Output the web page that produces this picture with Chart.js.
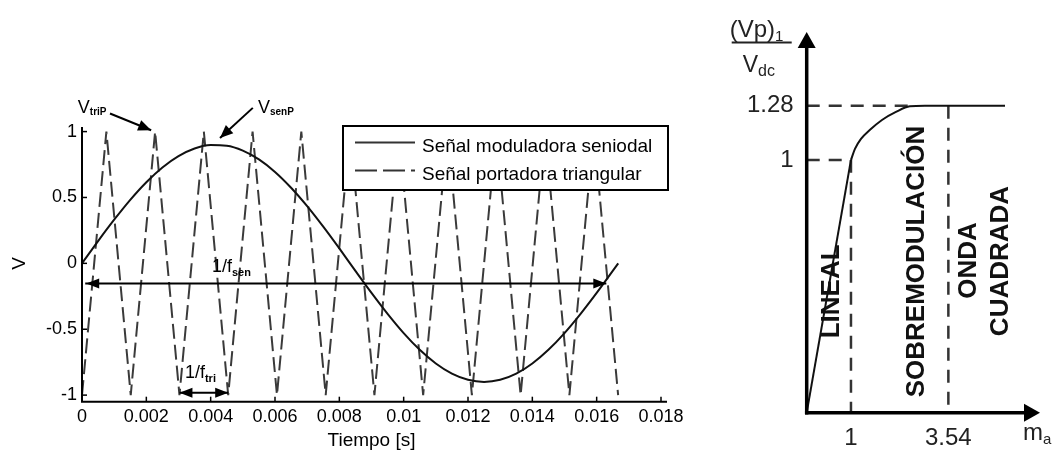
<!DOCTYPE html>
<html><head><meta charset="utf-8">
<script src="https://cdn.jsdelivr.net/npm/chart.js@4.4.1/dist/chart.umd.min.js"></script>
<style>
html,body{margin:0;padding:0;background:#fff;width:1055px;height:453px;overflow:hidden}
#c1{position:absolute;left:0;top:0}
#c2{position:absolute;left:690px;top:0}
</style></head><body>
<canvas id="c1" width="690" height="453"></canvas>
<canvas id="c2" width="365" height="453"></canvas>
<script>
const FONT = '"Liberation Sans", Arial, Helvetica, sans-serif';

// ---------- Left chart data ----------
const sineTime = [0,0.0005,0.001,0.0015,0.002,0.0025,0.003,0.0035,0.004,0.0045,0.005,0.0055,0.006,0.0065,0.007,0.0075,0.008,0.0085,0.009,0.0095,0.01,0.0105,0.011,0.0115,0.012,0.0125,0.013,0.0135,0.014,0.0145,0.015,0.0155,0.016,0.0165,0.01667];
const sineValue = [0,0.169,0.331,0.482,0.616,0.728,0.814,0.872,0.898,0.893,0.856,0.789,0.694,0.574,0.434,0.278,0.113,-0.057,-0.224,-0.383,-0.529,-0.656,-0.760,-0.837,-0.884,-0.900,-0.884,-0.837,-0.760,-0.656,-0.529,-0.383,-0.224,-0.057,0];
const triTime = [0,0.000758,0.001515,0.002273,0.003030,0.003788,0.004545,0.005303,0.006061,0.006818,0.007576,0.008333,0.009091,0.009848,0.010606,0.011364,0.012121,0.012879,0.013636,0.014394,0.015152,0.015909,0.016667];
const triValue = [-1,1,-1,1,-1,1,-1,1,-1,1,-1,1,-1,1,-1,1,-1,1,-1,1,-1,1,-1];
const timeTicks = [0,0.002,0.004,0.006,0.008,0.01,0.012,0.014,0.016,0.018];
const timeTickLabels = ['0','0.002','0.004','0.006','0.008','0.01','0.012','0.014','0.016','0.018'];
const voltTicks = [-1,-0.5,0,0.5,1];
const voltTickLabels = ['-1','-0.5','0','0.5','1'];
const seriesNames = ['Señal moduladora seniodal','Señal portadora triangular'];

// ---------- Right chart data (schematic) ----------
const linealMa = [0,1];
const linealVp = [0,1];
const overMa = [1,1.09,1.226,1.43,1.70,2.016,2.33,2.67,4.48];
const overVp = [1,1.0435,1.083,1.119,1.158,1.190,1.212,1.214,1.214];
const maTicks = [1,3.2];
const maTickLabels = ['1','3.54'];
const vpTicks = [1,1.214];
const vpTickLabels = ['1','1.28'];

const pts = (xs, ys) => xs.map((x,i)=>({x:x, y:ys[i]}));

function arrowHead(ctx, x1,y1,x2,y2,len,half){
  const a = Math.atan2(y2-y1, x2-x1), c=Math.cos(a), s=Math.sin(a);
  ctx.beginPath();
  ctx.moveTo(x2,y2);
  ctx.lineTo(x2-len*c+half*s, y2-len*s-half*c);
  ctx.lineTo(x2-len*c-half*s, y2-len*s+half*c);
  ctx.closePath(); ctx.fill();
}
function subText(ctx, main, sub, x, y, mainSize, subSize, dy, subBold){
  ctx.font = mainSize+'px '+FONT;
  ctx.textAlign='left'; ctx.textBaseline='alphabetic';
  ctx.fillText(main, x, y);
  const w = ctx.measureText(main).width;
  ctx.font = (subBold?'bold ':'')+subSize+'px '+FONT;
  ctx.fillText(sub, x+w, y+dy);
}

// ---------- Left chart ----------
const leftDecor = {
  id:'leftDecor',
  afterDatasetsDraw(chart){
    const {ctx, chartArea:a, scales:{x,y}} = chart;
    ctx.save();
    ctx.setLineDash([]);
    ctx.strokeStyle='#000'; ctx.fillStyle='#000'; ctx.lineWidth=2;
    ctx.beginPath();
    ctx.moveTo(a.left, y.getPixelForValue(1.035));
    ctx.lineTo(a.left, a.bottom);
    ctx.lineTo(a.right+6, a.bottom);
    ctx.stroke();
    ctx.lineWidth=1.5;
    timeTicks.forEach(t=>{const px=x.getPixelForValue(t); ctx.beginPath(); ctx.moveTo(px,a.bottom); ctx.lineTo(px,a.bottom-5); ctx.stroke();});
    voltTicks.forEach(v=>{const py=y.getPixelForValue(v); ctx.beginPath(); ctx.moveTo(a.left,py); ctx.lineTo(a.left+5,py); ctx.stroke();});

    ctx.lineWidth=2;
    let ya = y.getPixelForValue(-0.152), xa=x.getPixelForValue(0.0001), xb=x.getPixelForValue(0.0163);
    ctx.beginPath(); ctx.moveTo(xa,ya); ctx.lineTo(xb,ya); ctx.stroke();
    arrowHead(ctx, xb,ya, xa+1,ya, 13,5);
    arrowHead(ctx, xa,ya, xb,ya, 13,5);
    subText(ctx,'1/f','sen', x.getPixelForValue(0.00404), y.getPixelForValue(-0.065), 18, 11, 4, true);

    ya = y.getPixelForValue(-0.983); xa=x.getPixelForValue(0.00303); xb=x.getPixelForValue(0.004545);
    ctx.beginPath(); ctx.moveTo(xa,ya); ctx.lineTo(xb,ya); ctx.stroke();
    arrowHead(ctx, xb,ya, xa,ya, 13,5);
    arrowHead(ctx, xa,ya, xb,ya, 13,5);
    subText(ctx,'1/f','tri', x.getPixelForValue(0.0032), y.getPixelForValue(-0.871), 18, 11, 4, true);

    subText(ctx,'V','triP', x.getPixelForValue(-0.00013), y.getPixelForValue(1.14), 18, 10, 2, true);
    let x1=x.getPixelForValue(0.00087), y1=y.getPixelForValue(1.137), x2=x.getPixelForValue(0.00215), y2=y.getPixelForValue(1.01);
    ctx.beginPath(); ctx.moveTo(x1,y1); ctx.lineTo(x2,y2); ctx.stroke();
    arrowHead(ctx, x1,y1,x2,y2, 13,5.5);
    subText(ctx,'V','senP', x.getPixelForValue(0.00547), y.getPixelForValue(1.14), 18, 10, 2, true);
    x1=x.getPixelForValue(0.00531); y1=y.getPixelForValue(1.18); x2=x.getPixelForValue(0.00429); y2=y.getPixelForValue(0.952);
    ctx.beginPath(); ctx.moveTo(x1,y1); ctx.lineTo(x2,y2); ctx.stroke();
    arrowHead(ctx, x1,y1,x2,y2, 13,5.5);

    const L = a.left+261, T = a.top+1, W = 325, H = 64;
    ctx.fillStyle='#fff'; ctx.fillRect(L,T,W,H);
    ctx.strokeStyle='#000'; ctx.lineWidth=2; ctx.strokeRect(L,T,W,H);
    ctx.strokeStyle='#333'; ctx.lineWidth=2;
    ctx.beginPath(); ctx.moveTo(L+12,T+16.5); ctx.lineTo(L+72,T+16.5); ctx.stroke();
    ctx.setLineDash([22,6]);
    ctx.beginPath(); ctx.moveTo(L+12,T+44.5); ctx.lineTo(L+72,T+44.5); ctx.stroke();
    ctx.setLineDash([]);
    ctx.fillStyle='#000'; ctx.font='19px '+FONT; ctx.textAlign='left'; ctx.textBaseline='alphabetic';
    ctx.fillText(seriesNames[0], L+79, T+25.5);
    ctx.fillText(seriesNames[1], L+79, T+54);
    ctx.restore();
  }
};

new Chart(document.getElementById('c1'), {
  type:'scatter',
  data:{datasets:[
    {label:seriesNames[0], data:pts(sineTime,sineValue), showLine:true, pointRadius:0, borderColor:'#111', borderWidth:2, cubicInterpolationMode:'monotone', clip:false, order:0},
    {label:seriesNames[1], data:pts(triTime,triValue), showLine:true, pointRadius:0, borderColor:'#3a3a3a', borderWidth:2, borderDash:[15,6], clip:false, order:1}
  ]},
  options:{
    responsive:false, animation:false, events:[],
    layout:{padding:{left:0, top:125, right:29, bottom:0}},
    plugins:{legend:{display:false}, tooltip:{enabled:false}},
    scales:{
      x:{type:'linear', min:0, max:0.018,
        afterBuildTicks:s=>{s.ticks = timeTicks.map(v=>({value:v}));},
        afterFit:s=>{s.height = 51.3;},
        grid:{display:false, drawTicks:false}, border:{display:false},
        ticks:{callback:(v,i)=>timeTickLabels[i], font:{family:FONT,size:18}, color:'#000', padding:5, maxRotation:0, autoSkip:false},
        title:{display:true, text:'Tiempo [s]', font:{family:FONT,size:19}, color:'#000', padding:{top:0,bottom:1}}
      },
      y:{type:'linear', min:-1.05, max:1.05,
        afterBuildTicks:s=>{s.ticks = voltTicks.map(v=>({value:v}));},
        afterFit:s=>{s.width = 82;},
        grid:{display:false, drawTicks:false}, border:{display:false},
        ticks:{callback:(v,i)=>voltTickLabels[i], font:{family:FONT,size:18}, color:'#000', padding:5, autoSkip:false},
        title:{display:true, text:'V', font:{family:FONT,size:19}, color:'#000', padding:{top:8,bottom:0}}
      }
    }
  },
  plugins:[leftDecor]
});

// ---------- Right chart ----------
const rightDecor = {
  id:'rightDecor',
  afterDatasetsDraw(chart){
    const {ctx, chartArea:a, scales:{x,y}} = chart;
    ctx.save();
    ctx.setLineDash([]);
    ctx.strokeStyle='#000'; ctx.fillStyle='#000';
    ctx.lineWidth=3.5;
    ctx.beginPath(); ctx.moveTo(a.left, a.bottom+1.75); ctx.lineTo(a.left, a.top+12); ctx.stroke();
    ctx.beginPath(); ctx.moveTo(a.left-1.75, a.bottom); ctx.lineTo(a.right-12, a.bottom); ctx.stroke();
    arrowHead(ctx, a.left, a.bottom, a.left, a.top, 16, 9);
    arrowHead(ctx, a.left, a.bottom, a.right, a.bottom, 16, 9);

    ctx.fillStyle='#222';
    const tx = a.left-77;
    subText(ctx,'(Vp)','1', tx, a.top+5, 24, 15, 4, false);
    ctx.lineWidth=2; ctx.strokeStyle='#222';
    ctx.beginPath(); ctx.moveTo(tx+2, a.top+10.5); ctx.lineTo(tx+62, a.top+10.5); ctx.stroke();
    subText(ctx,'V','dc', tx+13, a.top+39.5, 23, 16, 4, false);
    subText(ctx,'m','a', a.right-17, a.bottom+27, 24, 15, 4, false);

    ctx.fillStyle='#111';
    ctx.font='bold 26px '+FONT; ctx.textAlign='center'; ctx.textBaseline='middle';
    const rot=(txt, xv, yv)=>{ctx.save(); ctx.translate(x.getPixelForValue(xv), y.getPixelForValue(yv)); ctx.rotate(-Math.PI/2); ctx.fillText(txt,0,0); ctx.restore();};
    rot('LINEAL', 0.56, 0.48);
    rot('SOBREMODULACIÓN', 2.49, 0.598);
    rot('ONDA', 3.66, 0.602);
    rot('CUADRADA', 4.39, 0.60);
    ctx.restore();
  }
};

const guide = {showLine:true, pointRadius:0, borderColor:'#333', borderWidth:2.5, borderDash:[13,9], clip:false};
new Chart(document.getElementById('c2'), {
  type:'scatter',
  data:{datasets:[
    {data:pts(linealMa,linealVp), showLine:true, pointRadius:0, borderColor:'#111', borderWidth:2, clip:false},
    {data:pts(overMa,overVp), showLine:true, pointRadius:0, borderColor:'#111', borderWidth:2, cubicInterpolationMode:'monotone', clip:false},
    Object.assign({data:pts([0,linealMa[1],linealMa[1]],[vpTicks[0],vpTicks[0],0])}, guide),
    Object.assign({data:pts([0,overMa[6]],[vpTicks[1],vpTicks[1]])}, guide),
    Object.assign({data:pts([maTicks[1],maTicks[1]],[vpTicks[1],0])}, guide)
  ]},
  options:{
    responsive:false, animation:false, events:[],
    layout:{padding:{left:0, top:32, right:15, bottom:0}},
    plugins:{legend:{display:false}, tooltip:{enabled:false}},
    scales:{
      x:{type:'linear', min:0, max:5.27,
        afterBuildTicks:s=>{s.ticks = maTicks.map(v=>({value:v}));},
        afterFit:s=>{s.height = 40.3;},
        grid:{display:false, drawTicks:false}, border:{display:false},
        ticks:{callback:(v,i)=>maTickLabels[i], font:{family:FONT,size:24}, color:'#222', padding:11, maxRotation:0, autoSkip:false}
      },
      y:{type:'linear', min:0, max:1.506,
        afterBuildTicks:s=>{s.ticks = vpTicks.map(v=>({value:v}));},
        afterFit:s=>{s.width = 116.7;},
        grid:{display:false, drawTicks:false}, border:{display:false},
        ticks:{callback:(v,i)=>vpTickLabels[i], font:{family:FONT,size:24}, color:'#222', padding:13, autoSkip:false}
      }
    }
  },
  plugins:[rightDecor]
});
</script>
</body></html>
